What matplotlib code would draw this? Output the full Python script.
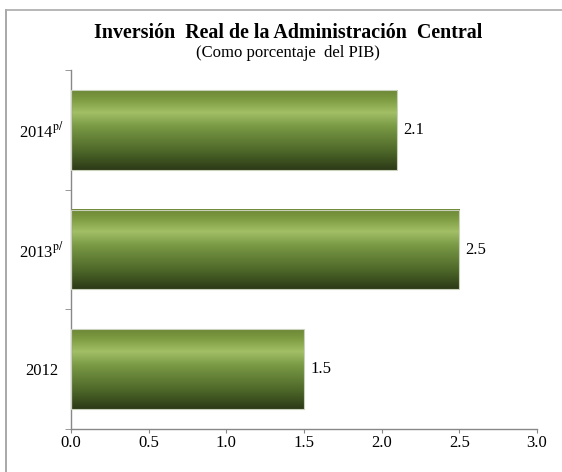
from matplotlib import pyplot as plt
from matplotlib.colors import LinearSegmentedColormap
from matplotlib.lines import Line2D
import numpy as np

# Datos
anios = ['2012', '2013$^{\\mathrm{p/}}$', '2014$^{\\mathrm{p/}}$']
valores = [1.5, 2.5, 2.1]
etiquetas = ['1.5', '2.5', '2.1']
ticks_x = [0.0, 0.5, 1.0, 1.5, 2.0, 2.5, 3.0]

plt.rcParams['font.family'] = ['Liberation Serif', 'DejaVu Serif']
plt.rcParams['mathtext.fontset'] = 'stix'

fig = plt.figure(figsize=(5.62, 4.72), dpi=100)
ax = fig.add_axes([71/562, 43/472, 466/562, 359/472])

# degradado verde (de abajo hacia arriba)
verde = LinearSegmentedColormap.from_list('verde', [
    (0.0, '#2c3a17'),
    (0.25, '#4f6a2a'),
    (0.55, '#7a9a45'),
    (0.72, '#a2bf66'),
    (0.88, '#7e9c42'),
    (1.0, '#6c8736'),
])
grad = np.linspace(0, 1, 256).reshape(-1, 1)

barras = ax.barh(range(len(anios)), valores, height=0.667, color='none',
                 edgecolor='#c9d1bc', linewidth=0.8, zorder=3)
for b in barras:
    x, y = b.get_x(), b.get_y()
    w, h = b.get_width(), b.get_height()
    ax.imshow(grad, cmap=verde, origin='lower', aspect='auto',
              extent=[x, x + w, y, y + h], zorder=2)

for i, v in enumerate(valores):
    ax.text(v + 0.04, i, etiquetas[i], va='center', ha='left', fontsize=12)

ax.set_xlim(0, 3.0)
ax.set_ylim(-0.5, 2.5)
ax.set_xticks(ticks_x)
ax.set_xticklabels(['%.1f' % t for t in ticks_x], fontsize=12)
ax.set_yticks(range(len(anios)))
ax.set_yticklabels(anios, fontsize=12, ha='center')
ax.set_yticks([-0.5, 0.5, 1.5, 2.5], minor=True)
ax.tick_params(axis='y', which='major', length=0, pad=21)
ax.tick_params(axis='y', which='minor', length=4, color='#888888', direction='out')
ax.tick_params(axis='x', length=3, color='#888888', direction='out', pad=1.5)

for lado in ['top', 'right']:
    ax.spines[lado].set_visible(False)
for lado in ['left', 'bottom']:
    ax.spines[lado].set_color('#888888')
    ax.spines[lado].set_linewidth(1)

fig.text(288/562, 1 - 33/472, 'Inversión  Real de la Administración  Central',
         ha='center', va='center', fontsize=14.4, fontweight='bold')
fig.text(288/562, 1 - 53/472, '(Como porcentaje  del PIB)',
         ha='center', va='center', fontsize=12)

# marco exterior
fig.add_artist(Line2D([6/562, 6/562], [0, 1 - 10/472], color='#999999', lw=1.2,
                      transform=fig.transFigure))
fig.add_artist(Line2D([6/562, 1], [1 - 10/472, 1 - 10/472], color='#aaaaaa', lw=1.2,
                      transform=fig.transFigure))

fig.savefig('out.png', dpi=100)
